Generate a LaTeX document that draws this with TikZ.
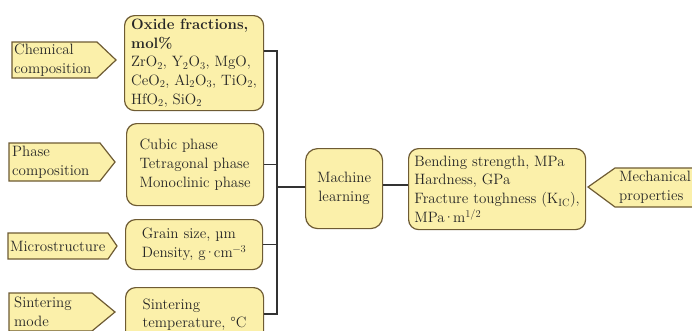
\documentclass[tikz,border=0pt]{standalone}
\usepackage{fontspec}
\setmainfont{lmroman12-regular.otf}[BoldFont=lmroman12-bold.otf, ItalicFont=lmroman12-italic.otf]
\usetikzlibrary{calc}
\definecolor{fil}{HTML}{FBF0AA}
\definecolor{brd}{HTML}{6E5B33}
\definecolor{lin}{HTML}{333333}
\newcommand{\mdot}{\kern-1.6pt·\kern-1.6pt}
\begin{document}
\begin{tikzpicture}[x=1pt,y=-1pt,
  every node/.style={font=\fontsize{15}{18.8}\selectfont, inner sep=0pt, text=black!85},
  sig/.style={draw=brd, fill=fil, line width=1.2pt, line join=miter},
  stxt/.style={anchor=west, align=left},
  mbox/.style={draw=brd, fill=fil, line width=1.2pt, rounded corners=10pt, anchor=north west, align=left},
  conn/.style={draw=lin, line width=1.1pt}]
\useasboundingbox (0,0) rectangle (692,330);
\clip (0,0) rectangle (692,330);
\fill[white] (0,0) rectangle (692,330);
% left signal arrows
\draw[sig] (12,42) -- (97,42) -- (116,60) -- (97,78) -- (12,78) -- cycle;
\node[stxt] (chem) at (14,60) {Chemical\\composition};
\draw[sig] (9,143) -- (100,143) -- (115,162) -- (100,181) -- (9,181) -- cycle;
\node[stxt] (phase) at (12,162) {Phase\\composition};
\draw[sig] (8,233) -- (108,233) -- (117,246) -- (108,259) -- (8,259) -- cycle;
\node[stxt] (micro) at (10,246) {Microstructure};
\draw[sig] (9,293) -- (92,293) -- (115,312) -- (92,331) -- (9,331) -- cycle;
\node[stxt] (smode) at (14,312) {Sintering\\mode};
% right signal arrow
\draw[sig] (588,187) -- (615,168) -- (700,168) -- (700,207) -- (615,207) -- cycle;
\node[stxt] (mech) at (619,187) {Mechanical\\properties};
% middle boxes
\node[mbox, minimum width=139pt, minimum height=95pt] (ox) at (124,15)
  {\textbf{Oxide fractions,}\\\textbf{mol\%}\\ZrO\textsubscript{2}, Y\textsubscript{2}O\textsubscript{3}, MgO,\\CeO\textsubscript{2}, Al\textsubscript{2}O\textsubscript{3}, TiO\textsubscript{2},\\HfO\textsubscript{2}, SiO\textsubscript{2}};
\node[mbox, minimum width=137pt, minimum height=82pt] (ph) at (126,123)
  {Cubic phase\\Tetragonal phase\\Monoclinic phase};
\node[mbox, minimum width=137pt, minimum height=50pt] (gr) at (125,219)
  {Grain size, µm\\Density, g\mdot cm\textsuperscript{−3}};
\node[mbox, minimum width=138pt, minimum height=54pt] (st) at (125,287)
  {Sintering\\temperature, °C};
\node[mbox, rounded corners=12pt, minimum width=77pt, minimum height=80pt, align=center] (ml) at (305,148)
  {Machine\\learning};
\node[mbox, minimum width=177pt, minimum height=81pt] (out) at (408,148)
  {Bending strength, MPa\\Hardness, GPa\\Fracture toughness (K\textsubscript{IC}),\\MPa\mdot m\textsuperscript{1/2}};
% bus
\coordinate (bt) at (277,51);
\coordinate (bb) at (277,314);
\draw[conn] (ox.east |- bt) -- (bt) -- (bb) -- (st.east |- bb);
\draw[conn] (ph.east) -- (ph.east -| bt);
\draw[conn] (gr.east) -- (gr.east -| bt);
\draw[conn] (ml.west |- 0,187) -- (bt |- 0,187);
\draw[conn] (ml.east |- 0,185) -- (out.west |- 0,185);
\end{tikzpicture}
\end{document}
